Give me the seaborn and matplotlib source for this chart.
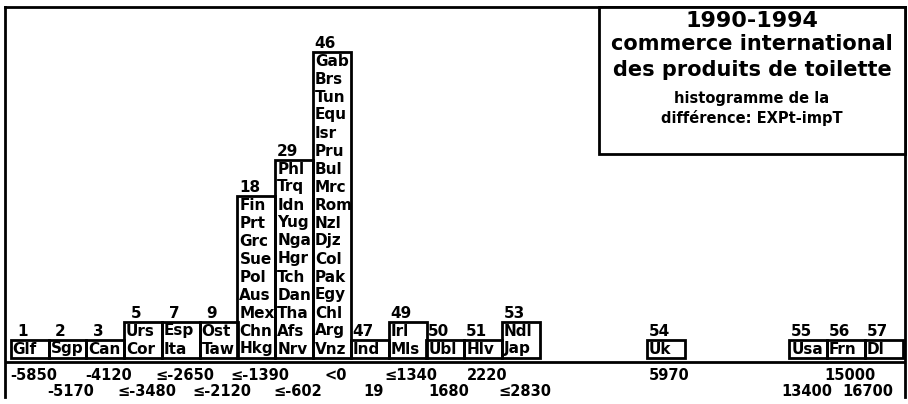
import numpy as np
import pandas as pd
import matplotlib
matplotlib.use("Agg")
import matplotlib.pyplot as plt
from matplotlib.patches import Rectangle
import seaborn as sns

# ---------------- data ----------------
# countries in each histogram class, listed bottom -> top
bin_countries = [
    ["Glf"],
    ["Sgp"],
    ["Can"],
    ["Cor", "Urs"],
    ["Ita", "Esp"],
    ["Taw", "Ost"],
    ["Hkg", "Chn", "Mex", "Aus", "Pol", "Sue", "Grc", "Prt", "Fin"],
    ["Nrv", "Afs", "Tha", "Dan", "Tch", "Hgr", "Nga", "Yug", "Idn", "Trq", "Phl"],
    ["Vnz", "Arg", "Chl", "Egy", "Pak", "Col", "Djz", "Nzl", "Rom", "Mrc",
     "Bul", "Pru", "Isr", "Equ", "Tun", "Brs", "Gab"],
    ["Ind"],
    ["Mls", "Irl"],
    ["Ubl"],
    ["Hlv"],
    ["Jap", "Ndl"],
    ["Uk"],
    ["Usa"],
    ["Frn"],
    ["Dl"],
]
bin_labels = ["-5850", "-5170", "-4120", "≤-3480", "≤-2650", "≤-2120",
              "≤-1390", "≤-602", "<0", "19", "≤1340", "1680", "2220",
              "≤2830", "5970", "13400", "15000", "16700"]

title_lines = ["1990-1994", "commerce international",
               "des produits de toilette", "histogramme de la",
               "différence: EXPt-impT"]

# ---------------- layout ----------------
slot_left = [0, 1, 2, 3, 4, 5, 6, 7, 8, 9, 10, 11, 12, 13,
             16.83, 20.6, 21.6, 22.6]

counts = [len(c) for c in bin_countries]
cum_counts = np.cumsum(counts)

rows = []
for j, clist in enumerate(bin_countries):
    for i, name in enumerate(clist):
        rows.append({"x": slot_left[j] + 0.5, "level": i, "name": name, "col": j})
df = pd.DataFrame(rows)

edges = []
for s in slot_left:
    if not edges or abs(edges[-1] - s) > 1e-9:
        edges.append(s)
    edges.append(s + 1)

sns.set_style("white")
plt.rcParams["font.family"] = ["DejaVu Sans"]
plt.rcParams["font.weight"] = "bold"
plt.rcParams["text.color"] = "black"

W, H = 908, 404
fig = plt.figure(figsize=(W / 100, H / 100), dpi=100)
ax = fig.add_axes([5 / W, (H - 397) / H, 900 / W, 390 / H])

sns.histplot(data=df, x="x", bins=edges, fill=False, element="bars",
             color="black", linewidth=2, ax=ax)
for p in list(ax.patches):
    if p.get_height() == 0:
        p.remove()

row_px = 18.0
slot_px = 37.8
ax.set_xlim((5 - 10.7) / slot_px, (905 - 10.7) / slot_px)
ax.set_ylim((358 - 397) / row_px, (358 - 7) / row_px)
ax.set_xlabel("")
ax.set_ylabel("")
ax.set_xticks([])
ax.set_yticks([])
for side in ["top", "left", "right"]:
    ax.spines[side].set_linewidth(2)
    ax.spines[side].set_color("black")
ax.spines["bottom"].set_visible(False)

ax.axhline(-4 / row_px, color="black", lw=2)

fs = 11
for _, r in df.iterrows():
    ax.text(r["x"] - 0.45, r["level"] + 0.5, r["name"], ha="left",
            va="center", fontsize=fs, fontweight="bold", color="black")

for j, n in enumerate(counts):
    ax.text(slot_left[j] + 0.32, n + 0.5, str(cum_counts[j]), ha="center",
            va="center", fontsize=fs, fontweight="bold", color="black")

n_lab = len(bin_labels)
for j, lab in enumerate(bin_labels):
    yy = (358 - 375) / row_px if j % 2 == 0 else (358 - 392) / row_px
    if j == n_lab - 1:
        ax.text(slot_left[j] + 0.74, yy, lab, ha="right", va="center",
                fontsize=10.5, fontweight="bold", clip_on=False, color="black")
    else:
        dx = 0.45 if j == n_lab - 3 else 0.6
        ax.text(slot_left[j] + dx, yy, lab, ha="center", va="center",
                fontsize=10.5, fontweight="bold", clip_on=False, color="black")

# title box
fig.patches.append(Rectangle((599 / W, (H - 154) / H), (905 - 599) / W,
                             (154 - 7) / H, transform=fig.transFigure,
                             fill=True, facecolor="white", edgecolor="black",
                             lw=2, zorder=5))
title_y = [21, 44, 70, 99, 118]
title_fs = [16, 15, 15, 10.5, 10.5]
for t, yy, f in zip(title_lines, title_y, title_fs):
    fig.text(752 / W, 1 - yy / H, t, ha="center", va="center", fontsize=f,
             fontweight="bold", zorder=6, color="black")

fig.savefig("out.png", dpi=100)
